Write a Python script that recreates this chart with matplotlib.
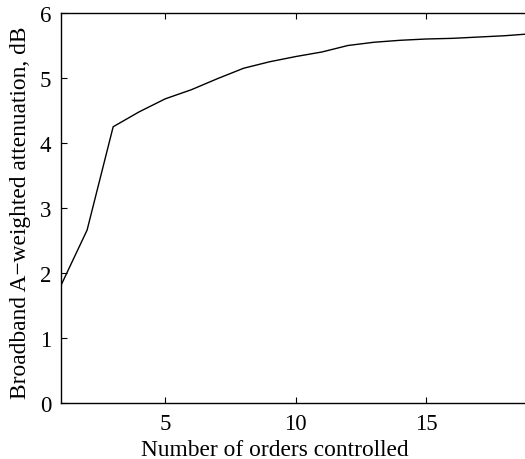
import matplotlib
matplotlib.use("Agg")
import matplotlib.pyplot as plt

orders = list(range(1, 20))
attenuation = [1.81, 2.66, 4.25, 4.48, 4.68, 4.82, 4.99, 5.15, 5.25, 5.33,
               5.40, 5.50, 5.55, 5.58, 5.60, 5.61, 5.63, 5.65, 5.68]
xticks = [5, 10, 15]
yticks = [0, 1, 2, 3, 4, 5, 6]

plt.rcParams['font.family'] = ['Liberation Serif', 'DejaVu Serif']

fig = plt.figure(figsize=(5.25, 4.6), dpi=100)
# axes box runs slightly past the right edge of the canvas
ax = fig.add_axes([61 / 525, 1 - 404 / 460, 469.5 / 525, 390 / 460])
ax.plot(orders, attenuation, color='black', linewidth=1.0)
ax.set_xlim(1, 19)
ax.set_ylim(0, 6)
ax.set_xticks(xticks)
ax.set_yticks(yticks)
ax.tick_params(direction='in', length=4, width=0.8, labelsize=16.5,
               top=True, right=True, pad=7)
for s in ax.spines.values():
    s.set_linewidth(1.0)
ax.set_xlabel('Number of orders controlled', fontsize=16.8)
ax.xaxis.set_label_coords(0.456, -0.093, transform=ax.transAxes)
ax.xaxis.label.set_va('top')
ax.set_ylabel('Broadband A\u2212weighted attenuation, dB', fontsize=16.8)
ax.yaxis.set_label_coords(-0.087, 0.491, transform=ax.transAxes)
ax.yaxis.label.set_va('center')
fig.savefig('out.png', dpi=100)
